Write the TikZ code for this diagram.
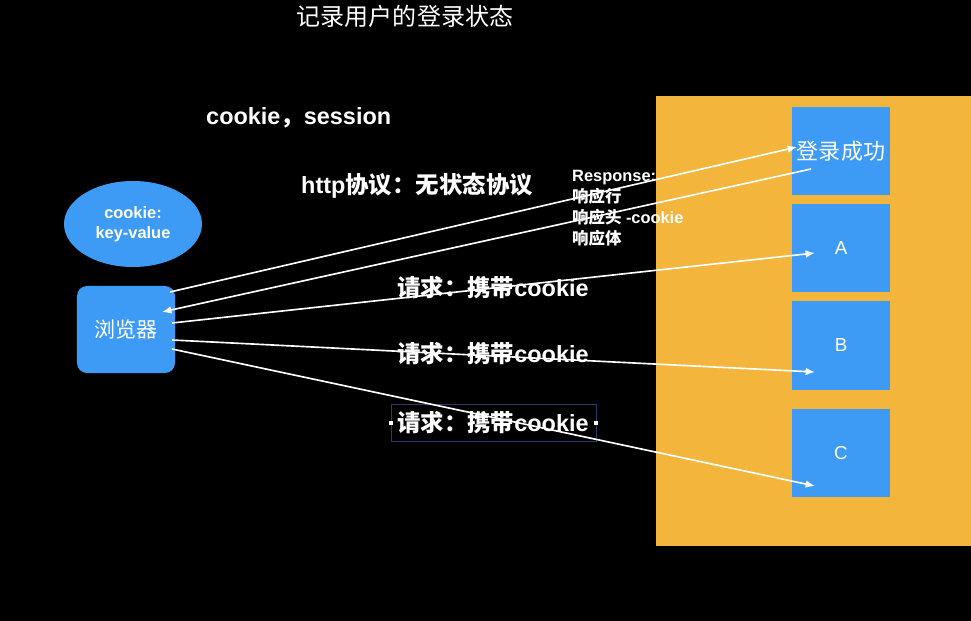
\documentclass[tikz,border=0pt]{standalone}
\usepackage{fontspec}
\setmainfont{Liberation Sans}
\newfontfamily\cjk{Noto Sans CJK SC}
\usetikzlibrary{shapes.geometric}
\usetikzlibrary{arrows.meta}
\pgfdeclarelayer{edgelayer}
\pgfdeclarelayer{nodelayer}
\pgfsetlayers{nodelayer,edgelayer,main}
\definecolor{panel}{HTML}{F3B53B}
\definecolor{boxblue}{HTML}{3D9BF5}
\definecolor{selframe}{HTML}{2A3A6A}
\tikzstyle{caption}=[text=white,inner sep=0pt,font=\bfseries\fontsize{20}{24}\selectfont]
\tikzstyle{small}=[text=white,inner sep=0pt,align=left,font=\bfseries\fontsize{14}{17.9}\selectfont]
\tikzstyle{page}=[rectangle,fill=boxblue,text=white,minimum width=2.94cm,minimum height=2.64cm,font=\fontsize{16}{18}\selectfont]
\tikzstyle{client}=[rectangle,rounded corners=0.3cm,fill=boxblue,text=white,minimum width=2.94cm,minimum height=2.61cm,font=\fontsize{18}{22}\selectfont]
\tikzstyle{store}=[ellipse,fill=boxblue,text=white,inner sep=0pt,minimum width=4.14cm,minimum height=2.58cm,align=center,font=\bfseries\fontsize{14}{17}\selectfont]
\tikzstyle{transition}=[-{Latex[length=8pt,width=6.5pt]},draw=white,line width=1.4pt]

\begin{document}
\begin{tikzpicture}[x=0.03cm,y=-0.03cm]
	\useasboundingbox (0,0) rectangle (971,621);
	\begin{pgfonlayer}{nodelayer}
		\fill[black] (0,0) rectangle (971,621);
		\fill[panel] (656,96) rectangle (971,546);
		\node [style=caption, font=\fontsize{20.5}{24}\selectfont] (0) at (405,16) {\cjk 记录用户的登录状态};
		\node [style=caption, anchor=west] (1) at (206,118) {cookie{\cjk ，}session};
		\node [style=caption, anchor=west] (2) at (301,186) {http{\cjk 协议：无状态协议}};
		\node [style=small, anchor=north west] (3) at (572,170) {Response:\\{\cjk 响应行}\\{\cjk 响应头} -cookie\\{\cjk 响应体}};
		\node [style=store] (4) at (133,224) {cookie:\\key-value};
		\node [style=client] (5) at (126,329.5) {\cjk 浏览器};
		\node [style=page, font=\fontsize{18.8}{22}\selectfont] (6) at (841,151) {\cjk 登录成功};
		\node [style=page] (7) at (841,248) {A};
		\node [style=page] (8) at (841,345.5) {B};
		\node [style=page] (9) at (841,453) {C};
		\node [style=caption, anchor=west] (10) at (397,288) {\cjk 请求：携带{\rmfamily cookie}};
		\node [style=caption, anchor=west] (11) at (397,354) {\cjk 请求：携带{\rmfamily cookie}};
		\node [style=caption, anchor=west] (12) at (397,423) {\cjk 请求：携带{\rmfamily cookie}};
		\draw [selframe, line width=0.6pt] (391,404) rectangle (596,441);
		\fill [white] (389,421) rectangle (393,425);
		\fill [white] (594,421) rectangle (598,425);
	\end{pgfonlayer}
	\begin{pgfonlayer}{edgelayer}
		\coordinate (b1) at (170,292);
		\coordinate (b2) at (162,312);
		\coordinate (b3) at (172,323);
		\coordinate (b4) at (172,340);
		\coordinate (b5) at (172,349);
		\coordinate (s1) at (797,147);
		\coordinate (s2) at (811,169);
		\coordinate (s3) at (815,253);
		\coordinate (s4) at (815,372);
		\coordinate (s5) at (815,486);
		\draw [style=transition] (b1) to (s1);
		\draw [style=transition] (s2) to (b2);
		\draw [style=transition] (b3) to (s3);
		\draw [style=transition] (b4) to (s4);
		\draw [style=transition] (b5) to (s5);
	\end{pgfonlayer}
\end{tikzpicture}
\end{document}
